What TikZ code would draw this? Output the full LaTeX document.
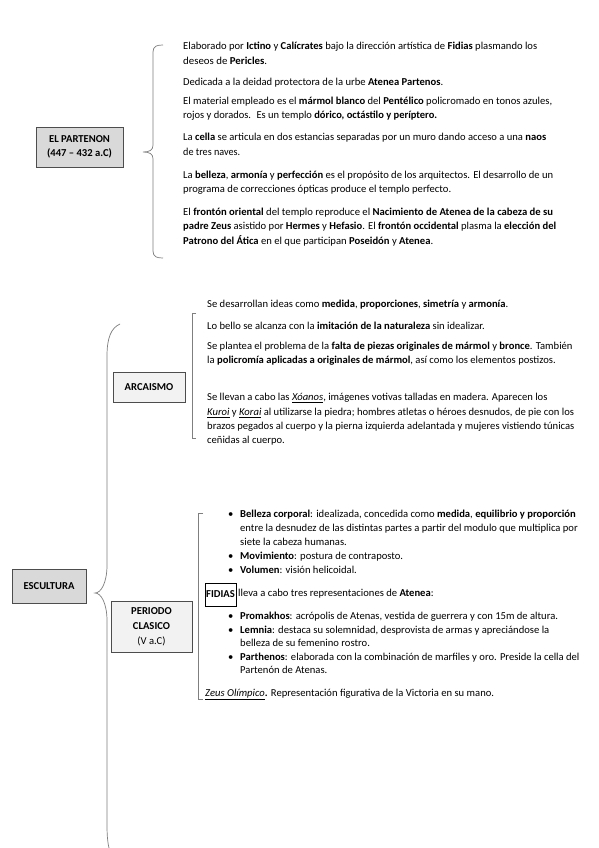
\documentclass[tikz,border=0pt]{standalone}
\usepackage{graphicx}
\usepackage{fontspec}
\setmainfont{Carlito}
\definecolor{boxdark}{HTML}{D9D9D9}
\definecolor{boxlight}{HTML}{F2F2F2}
\definecolor{boxline}{HTML}{4D4D4D}
\definecolor{bracegray}{HTML}{7F7F7F}
\newcommand{\fs}{\fontsize{10.6}{14}\selectfont}
\newcommand{\ul}[1]{\underline{\textit{#1}}}
\newcommand{\fitw}[2]{\resizebox{#1}{\height}{#2}}
\tikzset{
  txt/.style={anchor=west, inner sep=0pt, text height=7.5pt, text depth=2.5pt, font=\fs},
  bul/.style={anchor=west, inner sep=0pt, text height=7.5pt, text depth=2.5pt, font=\fs},
  darkbox/.style={draw=boxline, fill=boxdark, line width=0.9pt, inner sep=0pt, align=center, font=\fs\bfseries},
  lightbox/.style={draw=boxline, fill=boxlight, line width=0.9pt, inner sep=0pt, align=center, font=\fs\bfseries},
  bracestyle/.style={draw=bracegray, line width=0.7pt},
}
\begin{document}
\begin{tikzpicture}[x=1pt,y=-1pt]
\useasboundingbox[fill=white] (0,0) rectangle (599,848);

% ---------- Section 1: El Partenon ----------
\node[darkbox, minimum width=87pt, minimum height=40pt] (partenon) at (79.5,147) {EL PARTENON\\(447 -- 432 a.C)};
\coordinate (b1top) at (163,45);
\coordinate (b1tip) at (143,152);
\coordinate (b1bot) at (163,258);
\draw[bracestyle] (b1top) .. controls (157,45) and (153,46) .. (153,52) -- (153,145)
  .. controls (153,150) and (150,152) .. (b1tip)
  .. controls (150,152) and (153,154) .. (153,159) -- (153,251)
  .. controls (153,257) and (157,258) .. (b1bot);

\node[txt] (p1a) at (183,47) {\fitw{354pt}{Elaborado por \textbf{Ictino} y \textbf{Calícrates} bajo la dirección artística de \textbf{Fidias} plasmando los}};
\node[txt] (p1b) at (183,62) {\fitw{84pt}{deseos de \textbf{Pericles}.}};
\node[txt] (p2a) at (183,83) {\fitw{260pt}{Dedicada a la deidad protectora de la urbe \textbf{Atenea Partenos}.}};
\node[txt] (p3a) at (183,102) {\fitw{369pt}{El material empleado es el \textbf{mármol blanco} del \textbf{Pentélico} policromado en tonos azules,}};
\node[txt] (p3b) at (183,116) {\fitw{254pt}{rojos y dorados.~ Es un templo \textbf{dórico, octástilo y períptero.}}};
\node[txt] (p4a) at (183,138) {\fitw{363pt}{La \textbf{cella} se articula en dos estancias separadas por un muro dando acceso a una \textbf{naos}}};
\node[txt] (p4b) at (183,153) {\fitw{57pt}{de tres naves.}};
\node[txt] (p5a) at (183,176) {\fitw{370pt}{La \textbf{belleza}, \textbf{armonía} y \textbf{perfección} es el propósito de los arquitectos. El desarrollo de un}};
\node[txt] (p5b) at (183,190) {\fitw{268pt}{programa de correcciones ópticas produce el templo perfecto.}};
\node[txt] (p6a) at (183,213) {\fitw{370pt}{El \textbf{frontón oriental} del templo reproduce el \textbf{Nacimiento de Atenea de la cabeza de su}}};
\node[txt] (p6b) at (183,227) {\fitw{373pt}{\textbf{padre Zeus} asistido por \textbf{Hermes} y \textbf{Hefasio}. El \textbf{frontón occidental} plasma la \textbf{elección del}}};
\node[txt] (p6c) at (183,242) {\fitw{250pt}{\textbf{Patrono del Ática} en el que participan \textbf{Poseidón} y \textbf{Atenea}.}};

% ---------- Section 2: Escultura ----------
\node[darkbox, minimum width=74pt, minimum height=34pt] (escultura) at (49,586) {ESCULTURA};
\coordinate (b2top) at (120,324);
\coordinate (b2tip) at (95,593);
\coordinate (b2bot) at (110,852);
\draw[bracestyle] (b2top) .. controls (111,328) and (107,338) .. (107,356) -- (107,565)
  .. controls (107,583) and (101,593) .. (b2tip)
  .. controls (101,593) and (107,603) .. (107,621) -- (107,825)
  .. controls (107,838) and (108,845) .. (b2bot);

% Arcaismo
\node[lightbox, minimum width=72pt, minimum height=30pt] (arcaismo) at (149,387) {ARCAISMO};
\coordinate (b3top) at (196,313);
\coordinate (b3bot) at (196,438);
\draw[bracestyle] (b3top) -- (192,313) -- (192,438) -- (b3bot);

\node[txt] (a1) at (207,305) {Se desarrollan ideas como \textbf{medida}, \textbf{proporciones}, \textbf{simetría} y \textbf{armonía}.};
\node[txt] (a2) at (207,327) {Lo bello se alcanza con la \textbf{imitación de la naturaleza} sin idealizar.};
\node[txt] (a3) at (207,347) {Se plantea el problema de la \textbf{falta de piezas originales de mármol} y \textbf{bronce}. También};
\node[txt] (a4) at (207,361) {la \textbf{policromía aplicadas a originales de mármol}, así como los elementos postizos.};
\node[txt] (a5) at (207,398) {Se llevan a cabo las \ul{Xóanos}, imágenes votivas talladas en madera. Aparecen los};
\node[txt] (a6) at (207,413) {\ul{Kuroi} y \ul{Korai} al utilizarse la piedra; hombres atletas o héroes desnudos, de pie con los};
\node[txt] (a7) at (207,427) {brazos pegados al cuerpo y la pierna izquierda adelantada y mujeres vistiendo túnicas};
\node[txt] (a8) at (207,441) {ceñidas al cuerpo.};

% Periodo clasico
\node[lightbox, minimum width=81pt, minimum height=51pt, font=\fontsize{10.6}{15}\selectfont] (clasico) at (151.5,626.5) {\textbf{PERIODO}\\\textbf{CLASICO}\\(V a.C)};
\coordinate (b4top) at (203,513);
\coordinate (b4bot) at (203,699);
\draw[bracestyle] (b4top) -- (198,513) -- (198,699) -- (b4bot);

\node[bul] (d1) at (228,515) {•};
\node[txt] (c1) at (240,515) {\textbf{Belleza corporal}: idealizada, concedida como \textbf{medida}, \textbf{equilibrio y proporción}};
\node[txt] (c2) at (240,529) {entre la desnudez de las distintas partes a partir del modulo que multiplica por};
\node[txt] (c3) at (240,543) {siete la cabeza humanas.};
\node[bul] (d2) at (228,557) {•};
\node[txt] (c4) at (240,557) {\textbf{Movimiento}: postura de contraposto.};
\node[bul] (d3) at (228,571) {•};
\node[txt] (c5) at (240,571) {\textbf{Volumen}: visión helicoidal.};

\node[draw=black, fill=white, line width=0.8pt, minimum width=31pt, minimum height=23pt, inner sep=0pt, font=\fs\bfseries] (fidias) at (220.5,594.5) {FIDIAS};
\node[txt] (c6) at (238,594) {lleva a cabo tres representaciones de \textbf{Atenea}:};

\node[bul] (d4) at (228,617) {•};
\node[txt] (c7) at (240,617) {\textbf{Promakhos}: acrópolis de Atenas, vestida de guerrera y con 15m de altura.};
\node[bul] (d5) at (228,631) {•};
\node[txt] (c8) at (240,631) {\textbf{Lemnia}: destaca su solemnidad, desprovista de armas y apreciándose la};
\node[txt] (c9) at (240,644) {belleza de su femenino rostro.};
\node[bul] (d6) at (228,658) {•};
\node[txt] (c10) at (240,658) {\textbf{Parthenos}: elaborada con la combinación de marfiles y oro. Preside la cella del};
\node[txt] (c11) at (240,671) {Partenón de Atenas.};

\node[txt] (z1) at (205,694) {\ul{Zeus Olímpico}\textbf{.} Representación figurativa de la Victoria en su mano.};
\end{tikzpicture}
\end{document}
